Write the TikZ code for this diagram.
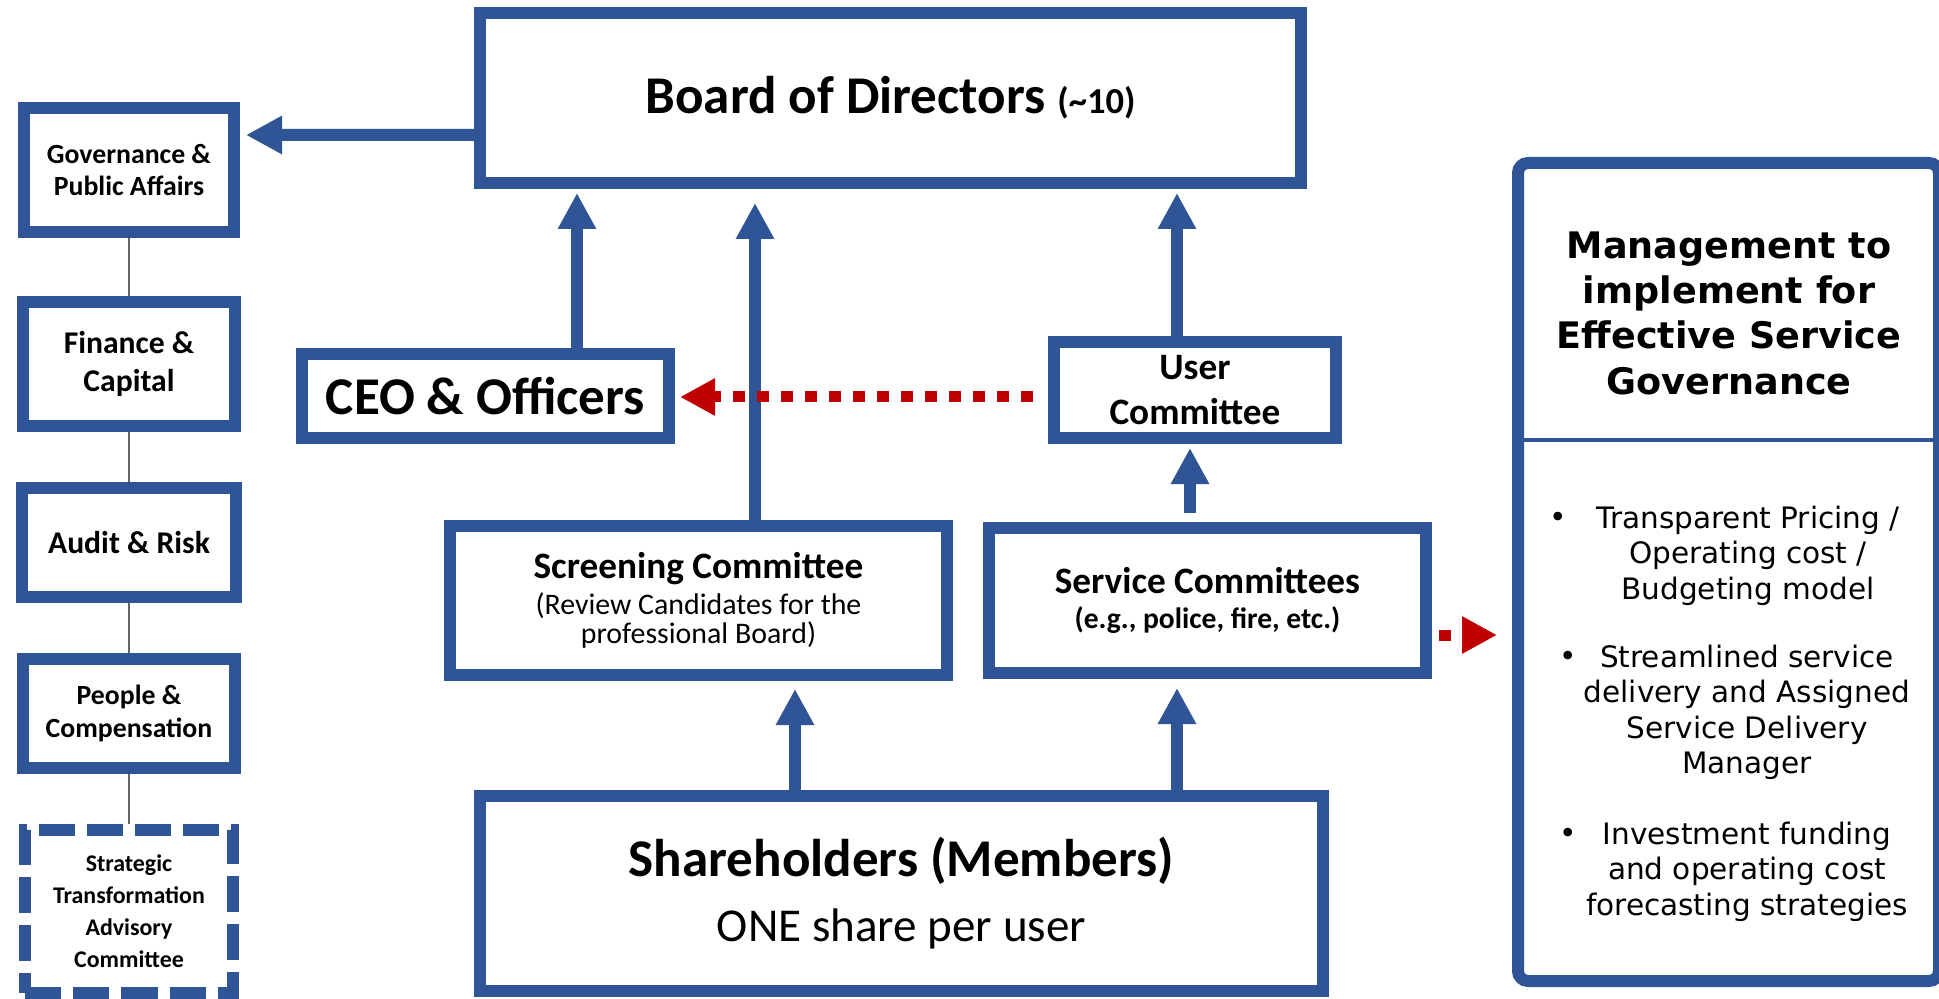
\documentclass[tikz,border=0pt]{standalone}
\usepackage{fontspec}
\setmainfont{Carlito}
\newfontfamily\panelfont{DejaVu Sans}
\usepackage{tikz}
\usetikzlibrary{arrows.meta,positioning}
\usepackage{xcolor}
\definecolor{govblue}{RGB}{47,85,151}
\definecolor{govred}{RGB}{192,0,0}
\newcommand{\tightlines}{\lineskiplimit=-5pt\relax}
\tikzstyle{unit} = [rectangle, draw=govblue, line width=1.2mm, fill=white, align=center, inner sep=0pt, font=\bfseries]
\tikzstyle{flow} = [draw=govblue, line width=1.2mm, -{Triangle[width=3.6mm,length=3.6mm]}, govblue]
\tikzstyle{dotflow} = [draw=govred, line width=1.1mm, dash pattern=on 1.2mm off 1.2mm, -{Triangle[width=3.5mm,length=3.5mm]}, govred]
\tikzstyle{link} = [draw=black!60, line width=0.5pt]

\begin{document}
\begin{tikzpicture}[node distance=0.5cm]
\useasboundingbox[fill=white] (0,0) rectangle (19.39,-9.99);

% Board and management
\node[unit, minimum width=8.21cm, minimum height=1.70cm, font=\fontsize{15.1}{18}\selectfont\bfseries] (board) at (8.905,-0.98) {Board of Directors {\fontsize{10.4}{12}\selectfont (\textasciitilde10)}};
\node[unit, minimum width=3.67cm, minimum height=0.84cm, font=\fontsize{15.1}{18}\selectfont\bfseries] (ceo) at (4.855,-3.96) {CEO \& Officers};
\node[unit, minimum width=2.82cm, minimum height=0.96cm, font=\fontsize{10.6}{12.8}\selectfont\bfseries] (user) at (11.95,-3.90) {User\\Committee};

% Committees
\node[unit, minimum width=4.97cm, minimum height=1.49cm, font=\fontsize{8.5}{8.3}\selectfont\tightlines] (screen) at (6.985,-6.005) {{\fontsize{10.6}{12}\selectfont\bfseries Screening Committee}\\[1.9pt](Review Candidates for the\\professional Board)};
\node[unit, minimum width=4.37cm, minimum height=1.45cm, font=\fontsize{8.4}{10.2}\selectfont\bfseries\tightlines] (service) at (12.075,-6.005) {{\fontsize{10.6}{12}\selectfont Service Committees}\\(e.g., police, fire, etc.)};

% Shareholders
\node[unit, minimum width=8.43cm, minimum height=1.95cm, font=\fontsize{13.4}{18.5}\selectfont\mdseries] (share) at (9.015,-8.935) {{\fontsize{15.1}{18}\selectfont\bfseries Shareholders (Members)}\\ONE share per user};

% Board sub-committees
\node[unit, minimum width=2.10cm, minimum height=1.24cm, font=\fontsize{7.9}{9.1}\selectfont\bfseries] (gov) at (1.29,-1.70) {Governance \&\\Public Affairs};
\node[unit, minimum width=2.12cm, minimum height=1.24cm, font=\fontsize{9}{10.8}\selectfont\bfseries, below=0.58cm of gov] (fin) {Finance \&\\Capital};
\node[unit, minimum width=2.13cm, minimum height=1.09cm, font=\fontsize{9}{10.8}\selectfont\bfseries, below=of fin] (audit) {Audit \& Risk};
\node[unit, minimum width=2.11cm, minimum height=1.09cm, font=\fontsize{7.9}{9.4}\selectfont\bfseries, below=of audit] (people) {People \&\\Compensation};
\node[unit, dash pattern=on 3.6mm off 1.2mm, minimum width=2.07cm, minimum height=1.63cm, font=\fontsize{6.8}{9.1}\selectfont\bfseries, below=of people] (strategy) {Strategic\\Transformation\\Advisory\\Committee};

\draw[link] (gov) -- (fin);
\draw[link] (fin) -- (audit);
\draw[link] (audit) -- (people);
\draw[link] (people) -- (strategy);

% Management panel
\node[unit, rounded corners=1mm, minimum width=4.21cm, minimum height=8.18cm] (mgmt) at (17.285,-5.72) {};
\coordinate (split) at (17.285,-4.40);
\draw[govblue, line width=0.35mm] (mgmt.west |- split) -- (mgmt.east |- split);
\node[anchor=north, align=center, font=\panelfont\fontsize{10.4}{12.9}\selectfont\bfseries] (mgmttitle) at (17.29,-2.19) {Management to\\implement for\\Effective Service\\Governance};
\node[anchor=north, align=center, font=\panelfont\fontsize{8.4}{10}\selectfont] (item1) at (17.48,-4.94) {Transparent Pricing /\\Operating cost /\\Budgeting model};
\node[anchor=north, align=center, font=\panelfont\fontsize{8.4}{10}\selectfont] (item2) at (17.47,-6.33) {Streamlined service\\delivery and Assigned\\Service Delivery\\Manager};
\node[anchor=north, align=center, font=\panelfont\fontsize{8.4}{10}\selectfont] (item3) at (17.47,-8.10) {Investment funding\\and operating cost\\forecasting strategies};
\node[anchor=base, font=\panelfont\fontsize{8.4}{10}\selectfont] (dot1) at (15.58,-5.27) {•};
\node[anchor=base, font=\panelfont\fontsize{8.4}{10}\selectfont] (dot2) at (15.68,-6.66) {•};
\node[anchor=base, font=\panelfont\fontsize{8.4}{10}\selectfont] (dot3) at (15.68,-8.43) {•};

% Reporting arrows
\draw[flow, shorten >=0.6mm] ([yshift=-3.7mm]board.west) -- ([yshift=3.5mm]gov.east);
\draw[flow, shorten >=0.4mm] ([xshift=9.15mm]ceo.north) -- ([xshift=9.15mm]ceo.north |- board.south);
\draw[flow, shorten >=1.4mm] ([xshift=5.65mm]screen.north) -- ([xshift=5.65mm]screen.north |- board.south);
\draw[flow, shorten >=0.4mm] ([xshift=-1.8mm]user.north) -- ([xshift=-1.8mm]user.north |- board.south);
\draw[flow, shorten <=0.9mm, shorten >=0.4mm] ([xshift=-1.75mm]service.north) -- ([xshift=-1.75mm]service.north |- user.south);
\draw[flow, shorten >=0.8mm] ([xshift=-10.65mm]share.north) -- ([xshift=-10.65mm]share.north |- screen.south);
\draw[flow, shorten >=0.9mm] ([xshift=27.55mm]share.north) -- ([xshift=27.55mm]share.north |- service.south);

% Dotted links
\draw[dotflow, shorten <=1.5mm, shorten >=0.5mm] ([yshift=-0.7mm]user.west) -- ([yshift=-0.7mm]user.west -| ceo.east);
\draw[dotflow, shorten <=0.7mm, shorten >=1.5mm] ([yshift=-3.45mm]service.east) -- ([yshift=-3.45mm]service.east -| mgmt.west);
\end{tikzpicture}
\end{document}
